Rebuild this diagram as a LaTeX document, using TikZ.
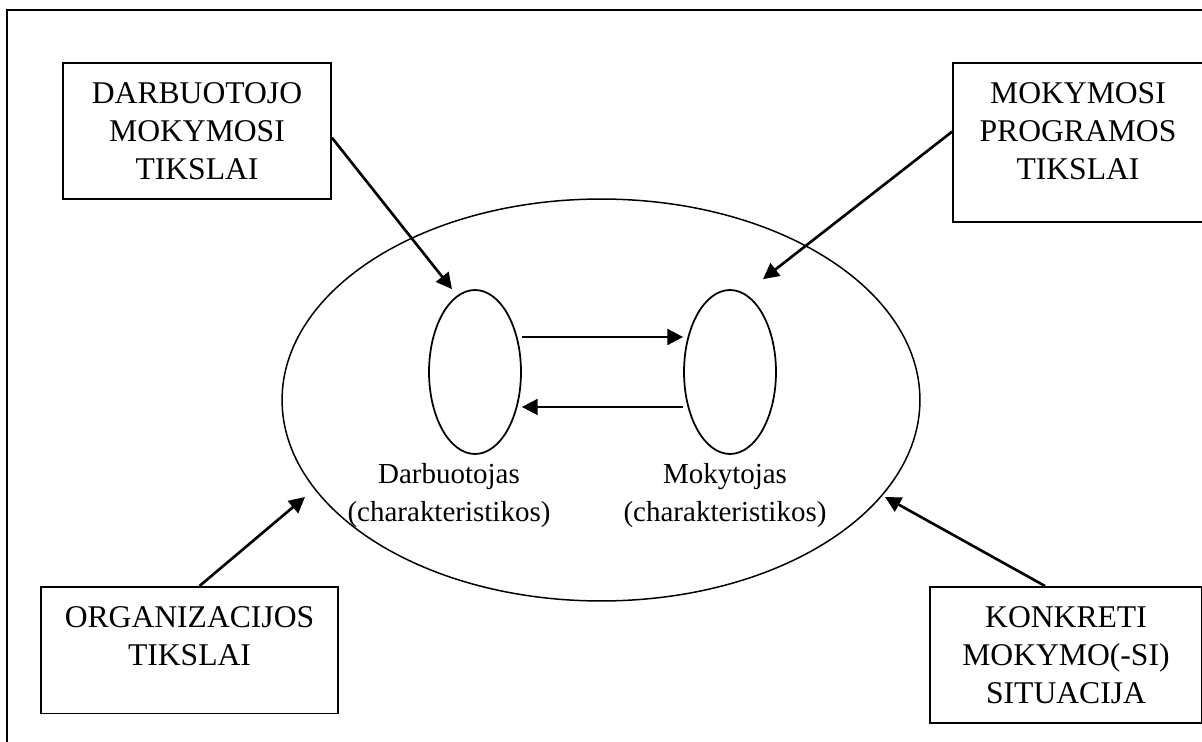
\documentclass[tikz,border=0pt]{standalone}
\usepackage{fontspec}
\setmainfont{Liberation Serif}
\usetikzlibrary{shapes.geometric, arrows.meta}
\tikzstyle{box} = [rectangle, draw=black, line width=1pt, anchor=north, align=center, inner xsep=0pt, inner ysep=0.4cm, font=\fontsize{18}{21.5}\selectfont]
\tikzstyle{blob} = [ellipse, draw=black, line width=1pt, minimum width=1.84cm, minimum height=3.28cm]
\tikzstyle{lbl} = [align=center, anchor=base, font=\fontsize{16.5}{21.5}\selectfont]
\tikzstyle{arrow} = [line width=1.5pt, -{Triangle[length=9pt,width=9pt]}]

\begin{document}
\begin{tikzpicture}[x=0.02cm, y=-0.02cm]
\useasboundingbox (0,0) rectangle (1202,742);
\draw [line width=1pt] (7,742) -- (7,10) -- (1203,10);

\node (aplinka) [ellipse, draw=black, line width=0.85pt, minimum width=12.76cm, minimum height=8.04cm] at (601,400) {};
\node (dw) [blob] at (475,372) {};
\node (mw) [blob] at (730,372) {};
\node (dlabel) [lbl] at (449,521) {Darbuotojas\\(charakteristikos)};
\node (mlabel) [lbl] at (725,521) {Mokytojas\\(charakteristikos)};

\node (dtikslai) [box, minimum width=5.36cm, text depth=0pt] at (197,62) {DARBUOTOJO\\MOKYMOSI\\TIKSLAI};
\node (ptikslai) [box, minimum width=5cm, text depth=0.46cm] at (1078,62) {MOKYMOSI\\PROGRAMOS\\TIKSLAI};
\node (otikslai) [box, minimum width=5.94cm, text depth=0.56cm] at (189.5,586) {ORGANIZACIJOS\\TIKSLAI};
\node (situacija) [box, minimum width=5.44cm, text depth=0pt] at (1066,586) {KONKRETI\\MOKYMO(-SI)\\SITUACIJA};

\coordinate (oin) at (305,497);
\coordinate (sin) at (885,497);

\draw [arrow] ([yshift=0.7cm]dw.east) -- ([yshift=0.7cm]dw.east -| mw.west);
\draw [arrow] ([yshift=-0.7cm]mw.west) -- ([yshift=-0.7cm]mw.west -| dw.east);
\draw [arrow] ([yshift=-0.13cm]dtikslai.east) -- ([xshift=-0.46cm]dw.north);
\draw [arrow] ([yshift=0.22cm]ptikslai.west) -- ([xshift=0.66cm,yshift=0.2cm]mw.north);
\draw [arrow] ([xshift=0.2cm]otikslai.north) -- (oin);
\draw [arrow] ([xshift=-0.42cm]situacija.north) -- (sin);
\end{tikzpicture}
\end{document}
